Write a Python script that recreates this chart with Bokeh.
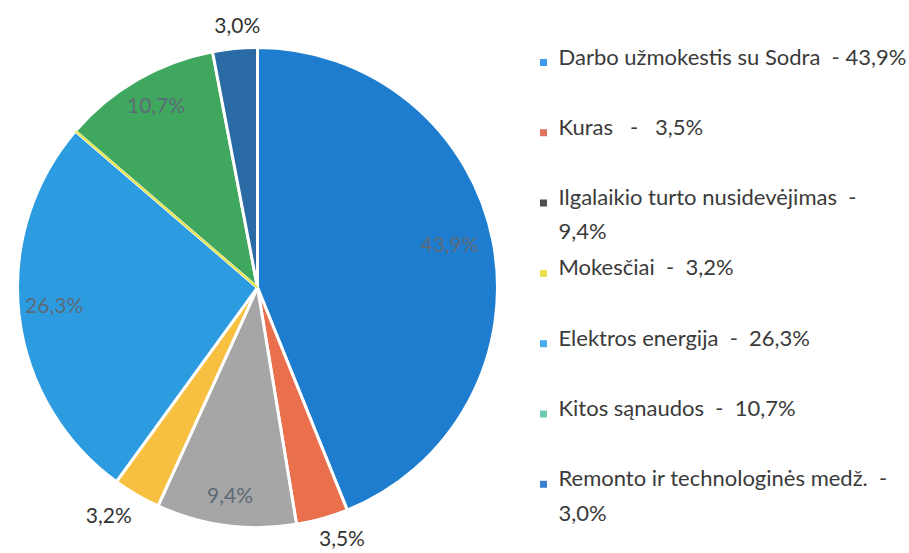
import numpy as np
from bokeh.plotting import figure
from bokeh.models import ColumnDataSource, Range1d
from bokeh.core.properties import value
from bokeh.embed import file_html
from bokeh.resources import INLINE

# ---- data ----
categories = ["Darbo užmokestis su Sodra", "Kuras", "Ilgalaikio turto nusidevėjimas",
              "Mokesčiai", "Elektros energija", "Kitos sąnaudos",
              "Remonto ir technologinės medž."]
shares = [43.9, 3.5, 9.4, 3.2, 26.3, 10.7, 3.0]
pct_labels = ["43,9%", "3,5%", "9,4%", "3,2%", "26,3%", "10,7%", "3,0%"]
legend_labels = ["Darbo užmokestis su Sodra  - 43,9%",
                 "Kuras   -   3,5%",
                 "Ilgalaikio turto nusidevėjimas  -\n9,4%",
                 "Mokesčiai  -  3,2%",
                 "Elektros energija  -  26,3%",
                 "Kitos sąnaudos  -  10,7%",
                 "Remonto ir technologinės medž.  -\n3,0%"]
label_inside = [True, False, True, False, True, True, False]

# ---- styles ----
slice_colors = ["#1f7dd0", "#ea6f4c", "#a6a6a6", "#f8c040", "#2d9be0", "#3fa85e", "#2a6ba6"]
marker_colors = ["#3d9be9", "#e0735f", "#505050", "#ede050", "#48aef0", "#6ccab2", "#3c80d4"]
label_angle_nudge_deg = [2, 3, 0, -3, -2, -1, -1]   # label placement tweaks (style)
label_radius_factor = [0.82, 1.10, 0.87, 1.13, 0.85, 0.87, 1.10]
FONT = "Lato"

W, H = 909, 553
cx, cy, R = 257, 266, 240

vals = np.array(shares, dtype=float)
frac = vals / vals.sum()
cum_after = np.cumsum(frac)
cum_before = cum_after - frac
start = np.pi / 2 - 2 * np.pi * cum_before
end = np.pi / 2 - 2 * np.pi * cum_after
mid = (start + end) / 2

p = figure(width=W, height=H, x_range=Range1d(0, W), y_range=Range1d(0, H),
           output_backend="svg", toolbar_location=None, min_border=0)
p.axis.visible = False
p.grid.visible = False
p.outline_line_color = None
p.background_fill_color = "white"

src = ColumnDataSource(dict(start=start, end=end, color=slice_colors, cat=categories))
p.wedge(x=cx, y=cy, radius=R, start_angle="start", end_angle="end", direction="clock",
        fill_color="color", line_color="white", line_width=3, source=src)

# thin yellow seam seen between green and light-blue slices in the scan
k = 4
p.segment(x0=cx, y0=cy, x1=cx + R * np.cos(end[k]), y1=cy + R * np.sin(end[k]),
          line_color="#e6e24a", line_width=2)

# pie labels
ang = mid + np.radians(label_angle_nudge_deg)
r_lab = np.array(label_radius_factor) * R
lx = cx + r_lab * np.cos(ang)
ly = cy + r_lab * np.sin(ang)
lcol = ["#5d6b78" if ins else "#333333" for ins in label_inside]
p.text(x=lx, y=ly, text=pct_labels, text_color=lcol, text_align="center",
       text_baseline="middle", text_font=value(FONT), text_font_size="21px")

# legend (keep the multiple spaces of the original with no-break spaces)
shown = [s.replace("  ", " \u00a0") for s in legend_labels]
shown = [s.replace("\u00a0 ", "\u00a0\u00a0") for s in shown]
n = len(categories)
row_y = 495 - 70.3 * np.arange(n)
p.scatter(x=[543] * n, y=row_y - 4, marker="square", size=7,
          fill_color=marker_colors, line_color=None)
p.text(x=[558] * n, y=row_y + 16, text=shown, text_color="#3a3a3a",
       text_align="left", text_baseline="top", text_font=value(FONT),
       text_font_size="22px", text_line_height=1.27)

open("out.html", "w").write(file_html(p, INLINE))
